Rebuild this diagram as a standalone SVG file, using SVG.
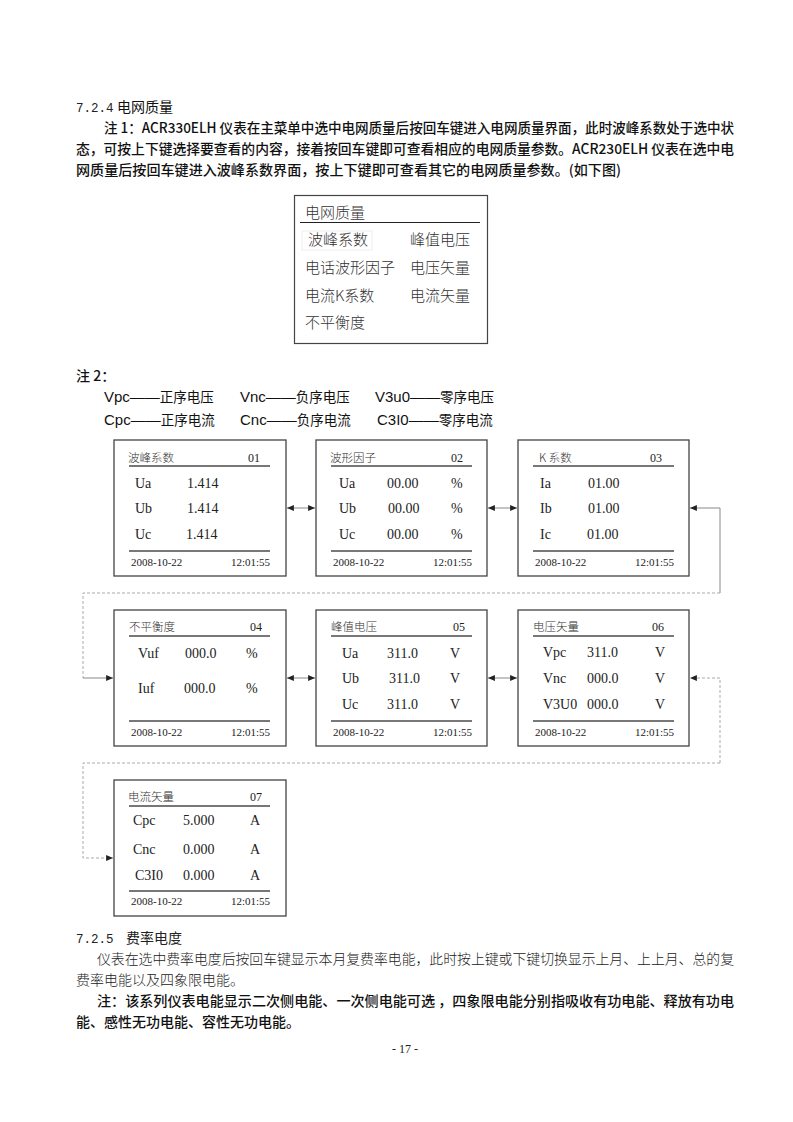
<svg xmlns="http://www.w3.org/2000/svg" width="793" height="1122" viewBox="0 0 793 1122">
<style>
.hei{font-family:"Noto Sans CJK SC","Noto Sans",sans-serif;font-size:14px;fill:#111;font-weight:500}
.song{font-family:"Noto Sans CJK SC","Noto Sans",sans-serif;font-size:14px;fill:#222;font-weight:300}
.mono{font-family:"Liberation Mono",monospace;font-size:12.5px;fill:#222}
.menu{font-family:"Noto Sans CJK SC",sans-serif;font-size:15px;fill:#333;font-weight:300}
.lat{font-family:"Liberation Sans","Noto Sans CJK SC",sans-serif;font-size:15px;fill:#111}
.cjk15{font-family:"Noto Sans CJK SC",sans-serif;font-size:13.5px;fill:#111}
.box{fill:#fff;stroke:#444;stroke-width:1.3}
.rule{stroke:#777;stroke-width:2}
.st{font-family:"Noto Sans CJK SC",sans-serif;font-size:11.5px;fill:#333;font-weight:300}
.sn{font-family:"Liberation Serif",serif;font-size:12px;fill:#222}
.sv{font-family:"Liberation Serif",serif;font-size:14px;fill:#222}
.sd{font-family:"Liberation Serif",serif;font-size:11px;fill:#222}
.e{text-anchor:end}
.c-solid{fill:none;stroke:#888;stroke-width:1}
.c-dash{fill:none;stroke:#aaa;stroke-width:1;stroke-dasharray:3 2}
</style>
<defs>
<marker id="ah" viewBox="0 0 8 7" refX="8" refY="3.5" markerWidth="7" markerHeight="6" orient="auto-start-reverse" markerUnits="userSpaceOnUse">
<path d="M0,0 L8,3.5 L0,7 z" fill="#222"/>
</marker>
</defs>

<g id="text-top">
<text x="76" y="112"><tspan class="mono">7.2.4</tspan><tspan class="hei" x="117" style="font-weight:400">电网质量</tspan></text>
<text class="hei" x="104" y="133" textLength="630" lengthAdjust="spacingAndGlyphs">注 1：ACR330ELH 仪表在主菜单中选中电网质量后按回车键进入电网质量界面，此时波峰系数处于选中状</text>
<text class="hei" x="76" y="154" textLength="658" lengthAdjust="spacingAndGlyphs">态，可按上下键选择要查看的内容，接着按回车键即可查看相应的电网质量参数。ACR230ELH 仪表在选中电</text>
<text class="hei" x="76" y="175" textLength="545" lengthAdjust="spacingAndGlyphs">网质量后按回车键进入波峰系数界面，按上下键即可查看其它的电网质量参数。(如下图)</text>
</g>

<g id="menu">
<rect x="294.5" y="195.5" width="193" height="148" fill="#fff" stroke="#444" stroke-width="1.2"/>
<text class="menu" x="305" y="218">电网质量</text>
<line x1="300" y1="222.5" x2="480" y2="222.5" stroke="#222" stroke-width="1.2"/>
<rect x="302" y="231" width="70" height="19" fill="none" stroke="#eee" stroke-width="1"/>
<text class="menu" x="308" y="245">波峰系数</text>
<text class="menu" x="410" y="245">峰值电压</text>
<text class="menu" x="305" y="273">电话波形因子</text>
<text class="menu" x="410" y="273">电压矢量</text>
<text class="menu" x="305" y="301">电流K系数</text>
<text class="menu" x="410" y="301">电流矢量</text>
<text class="menu" x="305" y="328">不平衡度</text>
</g>

<g id="note2">
<text class="hei" x="76" y="381">注 2：</text>
<text class="lat" x="104" y="402">Vpc——<tspan class="cjk15">正序电压</tspan></text>
<text class="lat" x="240" y="402">Vnc——<tspan class="cjk15">负序电压</tspan></text>
<text class="lat" x="375" y="402">V3u0——<tspan class="cjk15">零序电压</tspan></text>
<text class="lat" x="104" y="425">Cpc——<tspan class="cjk15">正序电流</tspan></text>
<text class="lat" x="240" y="425">Cnc——<tspan class="cjk15">负序电流</tspan></text>
<text class="lat" x="377" y="425">C3I0——<tspan class="cjk15">零序电流</tspan></text>
</g>

<g id="connectors">
<line class="c-solid" x1="287" y1="508" x2="315" y2="508" marker-start="url(#ah)" marker-end="url(#ah)"/>
<line class="c-solid" x1="488" y1="508" x2="517" y2="508" marker-start="url(#ah)" marker-end="url(#ah)"/>
<path class="c-solid" d="M720,593 L720,508 L690,508" marker-end="url(#ah)"/>
<path class="c-dash" d="M720,593 L83,593 L83,678"/>
<path class="c-solid" d="M83,678 L113,678" marker-end="url(#ah)"/>
<line class="c-solid" x1="287" y1="678" x2="315" y2="678" marker-start="url(#ah)" marker-end="url(#ah)"/>
<line class="c-solid" x1="488" y1="678" x2="517" y2="678" marker-start="url(#ah)" marker-end="url(#ah)"/>
<path class="c-dash" d="M720,763 L720,678 L690,678" marker-end="url(#ah)"/>
<path class="c-dash" d="M720,763 L83,763 L83,858 L113,858" marker-end="url(#ah)"/>
</g>

<g id="screen01">
<rect class="box" x="114" y="440" width="172" height="136"/>
<text class="st" x="128" y="462">波峰系数</text><text class="sn" x="248" y="462">01</text>
<line class="rule" x1="129" y1="466" x2="270" y2="466"/>
<text class="sv" x="135" y="488">Ua</text><text class="sv" x="187" y="488">1.414</text>
<text class="sv" x="135" y="513">Ub</text><text class="sv" x="187" y="513">1.414</text>
<text class="sv" x="135" y="539">Uc</text><text class="sv" x="186" y="539">1.414</text>
<line class="rule" x1="129" y1="551" x2="270" y2="551"/>
<text class="sd" x="131" y="566">2008-10-22</text><text class="sd e" x="270" y="566">12:01:55</text>
</g>

<g id="screen02">
<rect class="box" x="316" y="440" width="171" height="136"/>
<text class="st" x="330" y="462">波形因子</text><text class="sn" x="451" y="462">02</text>
<line class="rule" x1="331" y1="466" x2="472" y2="466"/>
<text class="sv" x="339" y="488">Ua</text><text class="sv" x="387" y="488">00.00</text><text class="sv" x="451" y="488">%</text>
<text class="sv" x="339" y="513">Ub</text><text class="sv" x="388" y="513">00.00</text><text class="sv" x="451" y="513">%</text>
<text class="sv" x="339" y="539">Uc</text><text class="sv" x="387" y="539">00.00</text><text class="sv" x="451" y="539">%</text>
<line class="rule" x1="331" y1="551" x2="472" y2="551"/>
<text class="sd" x="333" y="566">2008-10-22</text><text class="sd e" x="472" y="566">12:01:55</text>
</g>

<g id="screen03">
<rect class="box" x="518" y="440" width="171" height="136"/>
<text class="st" x="539" y="462">K 系数</text><text class="sn" x="650" y="462">03</text>
<line class="rule" x1="533" y1="466" x2="674" y2="466"/>
<text class="sv" x="540" y="488">Ia</text><text class="sv" x="588" y="488">01.00</text>
<text class="sv" x="540" y="513">Ib</text><text class="sv" x="588" y="513">01.00</text>
<text class="sv" x="540" y="539">Ic</text><text class="sv" x="587" y="539">01.00</text>
<line class="rule" x1="533" y1="551" x2="674" y2="551"/>
<text class="sd" x="535" y="566">2008-10-22</text><text class="sd e" x="674" y="566">12:01:55</text>
</g>

<g id="screen04">
<rect class="box" x="114" y="610" width="172" height="136"/>
<text class="st" x="129" y="631">不平衡度</text><text class="sn" x="250" y="631">04</text>
<line class="rule" x1="129" y1="636" x2="270" y2="636"/>
<text class="sv" x="138" y="658">Vuf</text><text class="sv" x="185" y="658">000.0</text><text class="sv" x="246" y="658">%</text>
<text class="sv" x="138" y="693">Iuf</text><text class="sv" x="184" y="693">000.0</text><text class="sv" x="246" y="693">%</text>
<line class="rule" x1="129" y1="721" x2="270" y2="721"/>
<text class="sd" x="131" y="736">2008-10-22</text><text class="sd e" x="270" y="736">12:01:55</text>
</g>

<g id="screen05">
<rect class="box" x="316" y="610" width="171" height="136"/>
<text class="st" x="331" y="631">峰值电压</text><text class="sn" x="453" y="631">05</text>
<line class="rule" x1="331" y1="636" x2="472" y2="636"/>
<text class="sv" x="342" y="658">Ua</text><text class="sv" x="387" y="658">311.0</text><text class="sv" x="450" y="658">V</text>
<text class="sv" x="342" y="683">Ub</text><text class="sv" x="389" y="683">311.0</text><text class="sv" x="450" y="683">V</text>
<text class="sv" x="342" y="709">Uc</text><text class="sv" x="387" y="709">311.0</text><text class="sv" x="450" y="709">V</text>
<line class="rule" x1="331" y1="721" x2="472" y2="721"/>
<text class="sd" x="333" y="736">2008-10-22</text><text class="sd e" x="472" y="736">12:01:55</text>
</g>

<g id="screen06">
<rect class="box" x="518" y="610" width="171" height="136"/>
<text class="st" x="533" y="631">电压矢量</text><text class="sn" x="652" y="631">06</text>
<line class="rule" x1="533" y1="636" x2="674" y2="636"/>
<text class="sv" x="543" y="657">Vpc</text><text class="sv" x="587" y="657">311.0</text><text class="sv" x="655" y="657">V</text>
<text class="sv" x="543" y="683">Vnc</text><text class="sv" x="587" y="683">000.0</text><text class="sv" x="655" y="683">V</text>
<text class="sv" x="543" y="709">V3U0</text><text class="sv" x="587" y="709">000.0</text><text class="sv" x="655" y="709">V</text>
<line class="rule" x1="533" y1="721" x2="674" y2="721"/>
<text class="sd" x="535" y="736">2008-10-22</text><text class="sd e" x="674" y="736">12:01:55</text>
</g>

<g id="screen07">
<rect class="box" x="114" y="780" width="172" height="136"/>
<text class="st" x="128" y="801">电流矢量</text><text class="sn" x="250" y="801">07</text>
<line class="rule" x1="129" y1="806" x2="270" y2="806"/>
<text class="sv" x="133" y="825">Cpc</text><text class="sv" x="183" y="825">5.000</text><text class="sv" x="250" y="825">A</text>
<text class="sv" x="133" y="854">Cnc</text><text class="sv" x="183" y="854">0.000</text><text class="sv" x="250" y="854">A</text>
<text class="sv" x="135" y="880">C3I0</text><text class="sv" x="183" y="880">0.000</text><text class="sv" x="250" y="880">A</text>
<line class="rule" x1="129" y1="891" x2="270" y2="891"/>
<text class="sd" x="131" y="905">2008-10-22</text><text class="sd e" x="270" y="905">12:01:55</text>
</g>

<g id="text-bottom">
<text x="76" y="943"><tspan class="mono">7.2.5</tspan><tspan class="song" x="126" style="font-weight:400">费率电度</tspan></text>
<text class="song" x="97" y="964" textLength="637" lengthAdjust="spacingAndGlyphs">仪表在选中费率电度后按回车键显示本月复费率电能，此时按上键或下键切换显示上月、上上月、总的复</text>
<text class="song" x="76" y="985">费率电能以及四象限电能。</text>
<text class="hei" x="97" y="1006" textLength="637" lengthAdjust="spacingAndGlyphs">注：该系列仪表电能显示二次侧电能、一次侧电能可选 ，四象限电能分别指吸收有功电能、释放有功电</text>
<text class="hei" x="76" y="1027">能、感性无功电能、容性无功电能。</text>
<text x="405" y="1053" text-anchor="middle" style="font-family:'Liberation Serif',serif;font-size:12px;fill:#222">- 17 -</text>
</g>
</svg>
